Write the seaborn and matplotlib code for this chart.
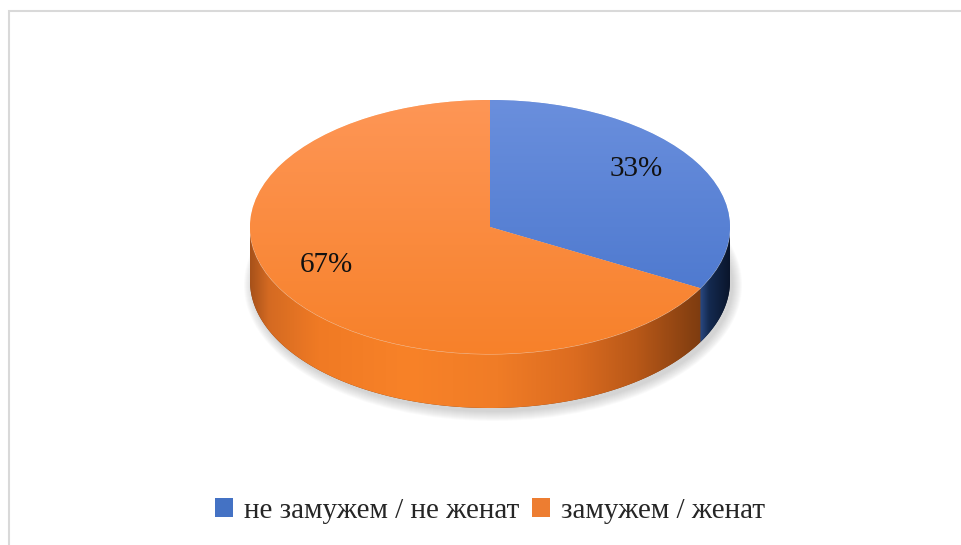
import numpy as np
import matplotlib
matplotlib.use("Agg")
import matplotlib.pyplot as plt
import matplotlib.transforms as mtransforms
from matplotlib.patches import Polygon, Rectangle, Patch, Ellipse
from matplotlib.colors import LinearSegmentedColormap
import seaborn as sns

# Data
categories = ["не замужем / не женат", "замужем / женат"]
shares = [33, 67]

sns.set_theme(style="white")
plt.rcParams["font.family"] = ["Liberation Serif", "DejaVu Serif"]

legend_colors = ["#4472C4", "#ED7D31"]
top_base = ["#4673CB", "#F7812A"]
top_light = ["#6A8FDD", "#FE9656"]
side_stops = [
    [(0.0, "#2A4A84"), (0.3, "#142A50"), (1.0, "#0A152B")],
    [(0.0, "#A8521A"), (0.04, "#D46A22"), (0.15, "#F07A24"), (0.35, "#F88228"),
     (0.55, "#F07C26"), (0.72, "#DC6C20"), (0.86, "#B85818"), (1.0, "#7E3C10")],
]

# Projection of the pie disc onto the canvas (pixels)
W, H = 961, 545
cx, cy = 490, 227
rx, ry = 240, 127
depth_px = 54
depth = depth_px / ry

fig = plt.figure(figsize=(W / 100, H / 100), dpi=100)
fig.patch.set_facecolor("white")
ax = fig.add_axes([0, 0, 1, 1])

wedges, texts, autotexts = ax.pie(
    shares,
    colors=top_base,
    startangle=90,
    counterclock=False,
    autopct=lambda p: f"{p:.0f}%",
    pctdistance=0.75,
    wedgeprops=dict(edgecolor=(1, 1, 1, 0.55), linewidth=0.7),
    textprops=dict(fontsize=21, color="#111111"),
)
ax.set_aspect("auto")
ax.set_xlim(-cx / rx, (W - cx) / rx)
ax.set_ylim(-(H - cy) / ry, cy / ry)
ax.axis("off")

for w in wedges:
    w.set_zorder(3)

# Vertical light gradient over each top face
for w, lo, hi in zip(wedges, top_base, top_light):
    cmap = LinearSegmentedColormap.from_list("top", [lo, hi])
    grad = np.linspace(0, 1, 256).reshape(-1, 1)
    im = ax.imshow(grad, cmap=cmap, extent=(-1, 1, -1, 1), origin="lower",
                   aspect="auto", interpolation="bicubic", zorder=3.5)
    im.set_clip_path(w)

# Slice boundaries (degrees, clockwise from 12 o'clock)
frac = np.array(shares, dtype=float) / np.sum(shares)
bounds = 90 - 360 * np.concatenate([[0], np.cumsum(frac)])

# Soft shadow under the disc
for k in range(10):
    grow = k * 1.0
    ax.add_patch(Ellipse((3 / rx, -depth - 4 / ry),
                         2 * (1 + grow / rx), 2 * (1 + grow / ry),
                         facecolor="#808080", edgecolor="none",
                         alpha=0.035, zorder=0.5))

# Visible front side of every slice
for i in range(len(shares)):
    hi_a, lo_a = bounds[i], bounds[i + 1]
    a0, a1 = max(lo_a, -180), min(hi_a, 0)
    if a1 <= a0:
        continue
    t = np.radians(np.linspace(a0, a1, 300))
    top = np.column_stack([np.cos(t), np.sin(t)])
    bot = np.column_stack([np.cos(t), np.sin(t) - depth])[::-1]
    poly = Polygon(np.vstack([top, bot]), closed=True,
                   facecolor=side_stops[i][-1][1], edgecolor="none", zorder=2)
    ax.add_patch(poly)
    x0, x1 = np.cos(t).min(), np.cos(t).max()
    cmap = LinearSegmentedColormap.from_list("side", side_stops[i])
    grad = np.linspace(0, 1, 512).reshape(1, -1)
    im = ax.imshow(grad, cmap=cmap, extent=(x0, x1, -1 - depth, 0),
                   aspect="auto", interpolation="bicubic", zorder=2.5)
    im.set_clip_path(poly)

ax.set_xlim(-cx / rx, (W - cx) / rx)
ax.set_ylim(-(H - cy) / ry, cy / ry)

# Percentage labels
shift = mtransforms.ScaledTranslation(-0.09, 0.10, fig.dpi_scale_trans)
for t in autotexts:
    t.set_transform(ax.transData + shift)
    t.set_zorder(6)

# Chart area border
fig.add_artist(Rectangle((9 / W, -0.1), 1.2, (H - 11) / H + 0.1,
                         transform=fig.transFigure, fill=False,
                         edgecolor="#D9D9D9", linewidth=1.5))

handles = [Patch(facecolor=c, edgecolor="none") for c in legend_colors]
fig.legend(handles, categories, loc="center", ncol=2,
           bbox_to_anchor=(490 / W, 1 - 511 / H), frameon=False,
           fontsize=21, handlelength=0.62, handleheight=0.62,
           handletextpad=0.38, columnspacing=0.45)

fig.savefig("out.png", dpi=100, facecolor="white")
